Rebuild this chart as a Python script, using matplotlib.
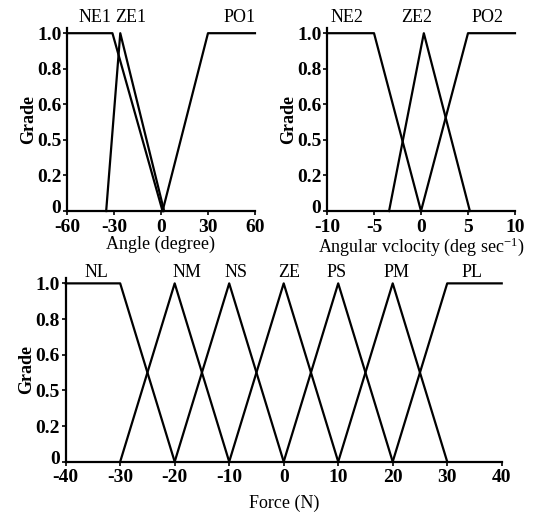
import numpy as np
import matplotlib.pyplot as plt
import matplotlib.transforms as mtrans

plt.rcParams['font.family'] = ['Liberation Serif', 'DejaVu Serif']
plt.rcParams['mathtext.fontset'] = 'custom'
plt.rcParams['mathtext.rm'] = 'Liberation Serif'
plt.rcParams['mathtext.it'] = 'Liberation Serif:italic'

# membership functions (x, grade)
angle_sets = {
    'NE1': ([-60, -31, 1], [1, 1, 0]),
    'ZE1': ([-35, -26, 2], [0, 1, 0]),
    'PO1': ([1, 30, 60], [0, 1, 1]),
}
angle_lbl_x = [-42, -19, 50]

vel_sets = {
    'NE2': ([-10, -5, 0], [1, 1, 0]),
    'ZE2': ([-3.4, 0.3, 5.2], [0, 1, 0]),
    'PO2': ([0, 5, 10], [0, 1, 1]),
}
vel_lbl_x = [-7.9, -0.5, 7.1]

force_sets = {
    'NL': ([-40, -30, -20], [1, 1, 0]),
    'NM': ([-30, -20, -10], [0, 1, 0]),
    'NS': ([-20, -10, 0], [0, 1, 0]),
    'ZE': ([-10, 0, 10], [0, 1, 0]),
    'PS': ([0, 10, 20], [0, 1, 0]),
    'PM': ([10, 20, 30], [0, 1, 0]),
    'PL': ([20, 30, 40], [0, 1, 1]),
}
force_lbl_x = [-34.3, -17.8, -8.8, 1.0, 9.7, 20.7, 34.5]

y_ticks = [0, 0.2, 0.4, 0.6, 0.8, 1.0]
y_ticklabels = ['0', '0.2', '0.5', '0.6', '0.8', '1.0']


def setup(ax, sets, lbl_x, xlim, xticks, xlabel, lbl_y, xpad):
    for (name, (xs, ys)), lx in zip(sets.items(), lbl_x):
        ax.plot(xs, ys, color='black', lw=1.6, clip_on=False)
        ax.text(lx, lbl_y, name, ha='center', va='center', fontsize=13)
    ax.set_xlim(*xlim)
    ax.set_ylim(0, 1.03)
    ax.set_xticks(xticks)
    ax.set_xticklabels([str(t) for t in xticks], fontweight='bold', fontsize=14)
    ax.set_yticks(y_ticks)
    ax.set_yticklabels(y_ticklabels, fontweight='bold', fontsize=14)
    ax.set_ylabel('Grade', fontweight='bold', fontsize=13, labelpad=0)
    ax.set_xlabel(xlabel, fontsize=13, labelpad=xpad)
    for s in ['top', 'right']:
        ax.spines[s].set_visible(False)
    for s in ['left', 'bottom']:
        ax.spines[s].set_linewidth(1.6)
    ax.tick_params(direction='out', length=3, width=1.2)
    ax.tick_params(axis='y', pad=1)
    ax.tick_params(axis='x', pad=2.5)
    # nudge the "0" label up a touch so it clears the first x label
    lab0 = ax.get_yticklabels()[0]
    lab0.set_transform(lab0.get_transform() +
                       mtrans.ScaledTranslation(0, 3 / 72, ax.figure.dpi_scale_trans))


fig = plt.figure(figsize=(5.37, 5.16), dpi=100)
ax1 = fig.add_axes([0.1248, 0.591, 0.350, 0.355])
ax2 = fig.add_axes([0.609, 0.591, 0.350, 0.355])
ax3 = fig.add_axes([0.1223, 0.1052, 0.812, 0.356])

setup(ax1, angle_sets, angle_lbl_x, (-60, 60), [-60, -30, 0, 30, 60],
      'Angle (degree)', 1.09, 0)
setup(ax2, vel_sets, vel_lbl_x, (-10, 10), [-10, -5, 0, 5, 10],
      'Angular vclocity (deg sec$^{-1}$)', 1.09, 0)
setup(ax3, force_sets, force_lbl_x, (-40, 40), [-40, -30, -20, -10, 0, 10, 20, 30, 40],
      'Force (N)', 1.06, 6)

fig.savefig('out.png', dpi=100)
